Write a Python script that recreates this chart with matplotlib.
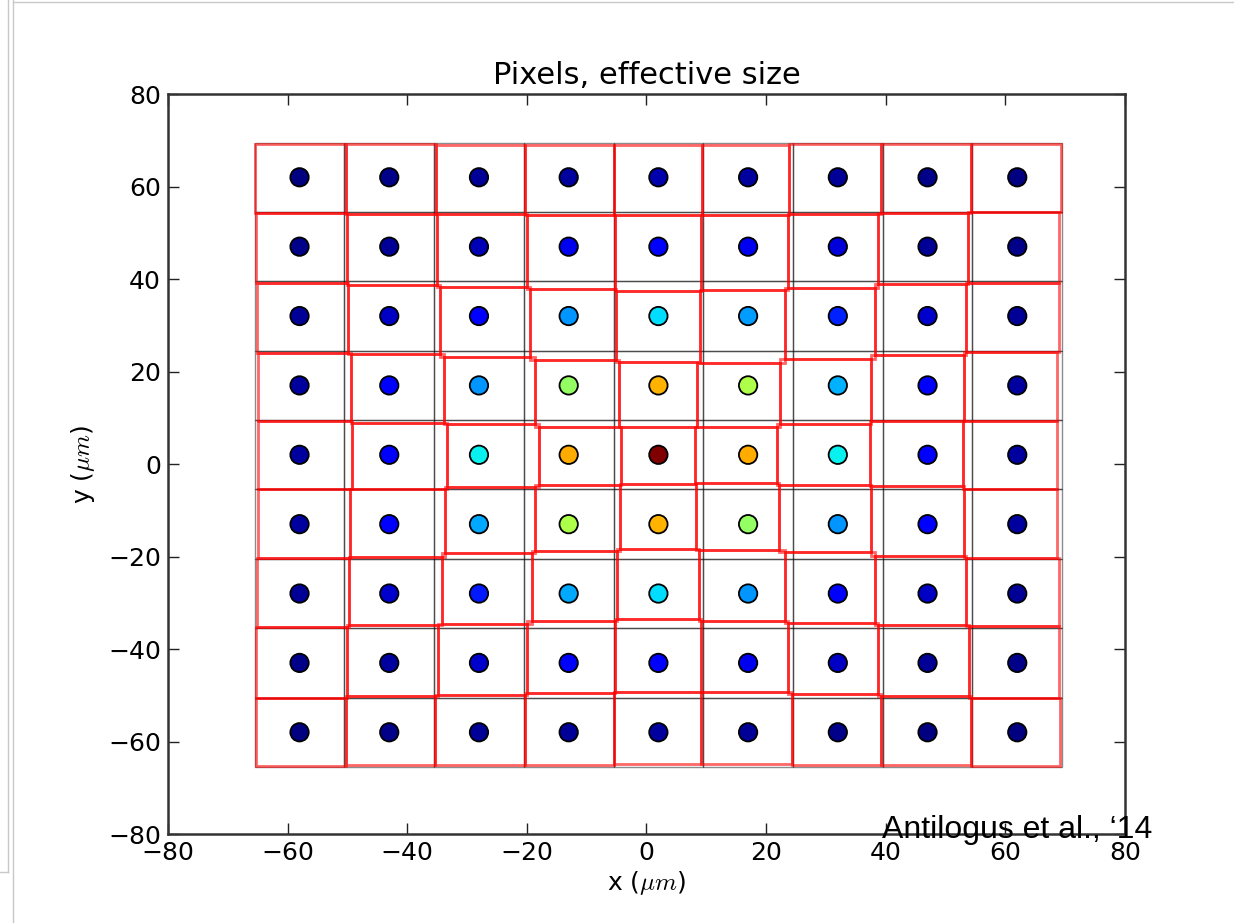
import matplotlib
matplotlib.use("Agg")
import matplotlib.pyplot as plt
from matplotlib.lines import Line2D
from matplotlib.patches import Rectangle
import numpy as np

PIXEL_SIZE = 15.0

# pixel centres (um), rows listed from top to bottom
x_centers = [-58, -43, -28, -13, 2, 17, 32, 47, 62]
y_centers = [62, 47, 32, 17, 2, -13, -28, -43, -58]

# nominal pixel boundaries (grey grid)
nominal_x_edges = [-65.5, -50.5, -35.5, -20.5, -5.5, 9.5, 24.5, 39.5, 54.5, 69.5]
nominal_y_edges = [69.5, 54.5, 39.5, 24.5, 9.5, -5.5, -20.5, -35.5, -50.5, -65.5]

# effective vertical boundaries, one list per pixel row (top -> bottom)
eff_x_edges = [
    [-65.5, -50.3, -35.2, -20.3, -5.5, 9.3, 23.9, 39.2, 54.2, 69.3],
    [-65.2, -50.1, -35.0, -20.0, -5.2, 9.2, 23.6, 38.8, 53.8, 69.0],
    [-65.1, -49.9, -34.5, -19.4, -5.1, 9.0, 23.2, 38.2, 53.4, 68.9],
    [-64.9, -49.4, -33.8, -18.6, -4.6, 8.4, 22.3, 37.5, 53.1, 68.6],
    [-64.9, -49.2, -33.4, -18.0, -4.3, 8.1, 21.9, 37.3, 53.0, 68.6],
    [-64.9, -49.5, -33.7, -18.6, -4.5, 8.3, 22.2, 37.5, 53.1, 68.7],
    [-65.1, -49.7, -34.2, -19.2, -5.0, 8.8, 23.2, 38.2, 53.4, 68.9],
    [-65.2, -50.1, -34.8, -20.0, -5.3, 9.1, 23.7, 38.8, 54.0, 69.0],
    [-65.3, -50.2, -35.4, -20.3, -5.5, 9.2, 24.3, 39.2, 54.2, 69.1],
]

# effective horizontal boundaries, one list per pixel column (left -> right),
# each listed from top to bottom
eff_y_edges = [
    [69.2, 54.2, 39.2, 24.1, 9.2, -5.5, -20.3, -35.2, -50.5, -65.3],
    [69.2, 54.1, 38.8, 23.7, 8.9, -5.4, -20.1, -34.9, -50.1, -65.1],
    [69.0, 54.1, 38.2, 23.1, 8.6, -5.0, -19.3, -34.6, -50.0, -65.1],
    [69.0, 53.9, 37.9, 22.6, 8.1, -4.5, -18.8, -33.9, -49.4, -65.1],
    [69.0, 53.9, 37.5, 22.0, 8.1, -4.3, -18.4, -33.5, -49.3, -64.8],
    [69.0, 53.9, 37.7, 21.8, 8.1, -4.2, -18.5, -33.9, -49.3, -64.9],
    [69.1, 54.0, 38.0, 22.8, 8.6, -4.5, -19.1, -34.3, -49.8, -65.1],
    [69.2, 54.2, 38.9, 23.5, 9.2, -4.8, -19.9, -34.8, -50.1, -65.1],
    [69.2, 54.4, 39.1, 24.2, 9.3, -5.3, -20.4, -35.1, -50.6, -65.3],
]

# relative charge in each pixel (colour of the dots), rows top -> bottom
charge = [
    [0.00, 0.01, 0.02, 0.03, 0.04, 0.03, 0.02, 0.01, 0.00],
    [0.01, 0.02, 0.05, 0.10, 0.11, 0.10, 0.08, 0.02, 0.01],
    [0.02, 0.06, 0.12, 0.27, 0.34, 0.28, 0.16, 0.07, 0.02],
    [0.03, 0.12, 0.27, 0.53, 0.72, 0.56, 0.30, 0.12, 0.03],
    [0.03, 0.12, 0.36, 0.73, 1.00, 0.73, 0.36, 0.12, 0.03],
    [0.03, 0.12, 0.29, 0.56, 0.72, 0.53, 0.27, 0.12, 0.03],
    [0.02, 0.07, 0.15, 0.29, 0.34, 0.27, 0.12, 0.06, 0.02],
    [0.01, 0.03, 0.07, 0.11, 0.11, 0.10, 0.06, 0.02, 0.01],
    [0.00, 0.01, 0.02, 0.02, 0.03, 0.02, 0.01, 0.00, 0.00],
]

TITLE = "Pixels, effective size"
CREDIT = "Antilogus et al., \u201814"


def draw_pixels(ax):
    """grey nominal squares plus the red effective boundaries of every pixel"""
    n_rows, n_cols = len(y_centers), len(x_centers)
    for r in range(n_rows):
        for c in range(n_cols):
            ax.add_patch(Rectangle(
                (nominal_x_edges[c], nominal_y_edges[r + 1]), PIXEL_SIZE, PIXEL_SIZE,
                fill=False, edgecolor="black", alpha=0.45, linewidth=1.0, zorder=1,
            ))
    for r in range(n_rows):
        for c in range(n_cols):
            left, right = eff_x_edges[r][c], eff_x_edges[r][c + 1]
            top, bottom = eff_y_edges[c][r], eff_y_edges[c][r + 1]
            ax.add_patch(Rectangle(
                (left, bottom), right - left, top - bottom,
                fill=False, edgecolor="red", alpha=0.6, linewidth=2.0, zorder=2,
            ))


def main():
    plt.rcParams["mathtext.fontset"] = "cm"
    fig = plt.figure(figsize=(12.34, 9.23), dpi=100)
    ax = fig.add_axes([0.1361, 0.0964, 0.7755, 0.8017])

    draw_pixels(ax)

    xx, yy = np.meshgrid(x_centers, y_centers)
    ax.scatter(xx.ravel(), yy.ravel(), c=np.array(charge).ravel(), cmap="jet",
               vmin=0, vmax=1, s=175, edgecolors="black", linewidths=1.3, zorder=3)

    ax.set_xlim(-80, 80)
    ax.set_ylim(-80, 80)
    ticks = np.arange(-80, 81, 20)
    ax.set_xticks(ticks)
    ax.set_yticks(ticks)
    ax.tick_params(direction="in", top=True, right=True, length=8, width=1.0,
                   labelsize=18, pad=5, colors="#222222", labelcolor="black")
    for spine in ax.spines.values():
        spine.set_linewidth(1.8)
        spine.set_color("#333333")

    ax.set_title(TITLE, fontsize=22, pad=7)
    ax.set_xlabel(r"x ($\mu m$)", fontsize=18, labelpad=3)
    ax.set_ylabel(r"y ($\mu m$)", fontsize=18, labelpad=8)

    fig.text(0.7147, 0.0921, CREDIT, family="Liberation Sans", fontsize=23,
             va="baseline", ha="left", zorder=10)

    # edges of the page the chart was cut from
    grey = "#c8c8c8"
    fig.add_artist(Line2D([8 / 1234, 8 / 1234], [1, 1 - 872 / 923], color=grey, lw=1))
    fig.add_artist(Line2D([0, 8 / 1234], [1 - 872 / 923, 1 - 872 / 923], color=grey, lw=1))
    fig.add_artist(Line2D([13 / 1234, 13 / 1234], [0, 1], color=grey, lw=1))
    fig.add_artist(Line2D([13 / 1234, 1], [1 - 1.5 / 923, 1 - 1.5 / 923], color=grey, lw=1))

    fig.savefig("out.png", dpi=100)


if __name__ == "__main__":
    main()
